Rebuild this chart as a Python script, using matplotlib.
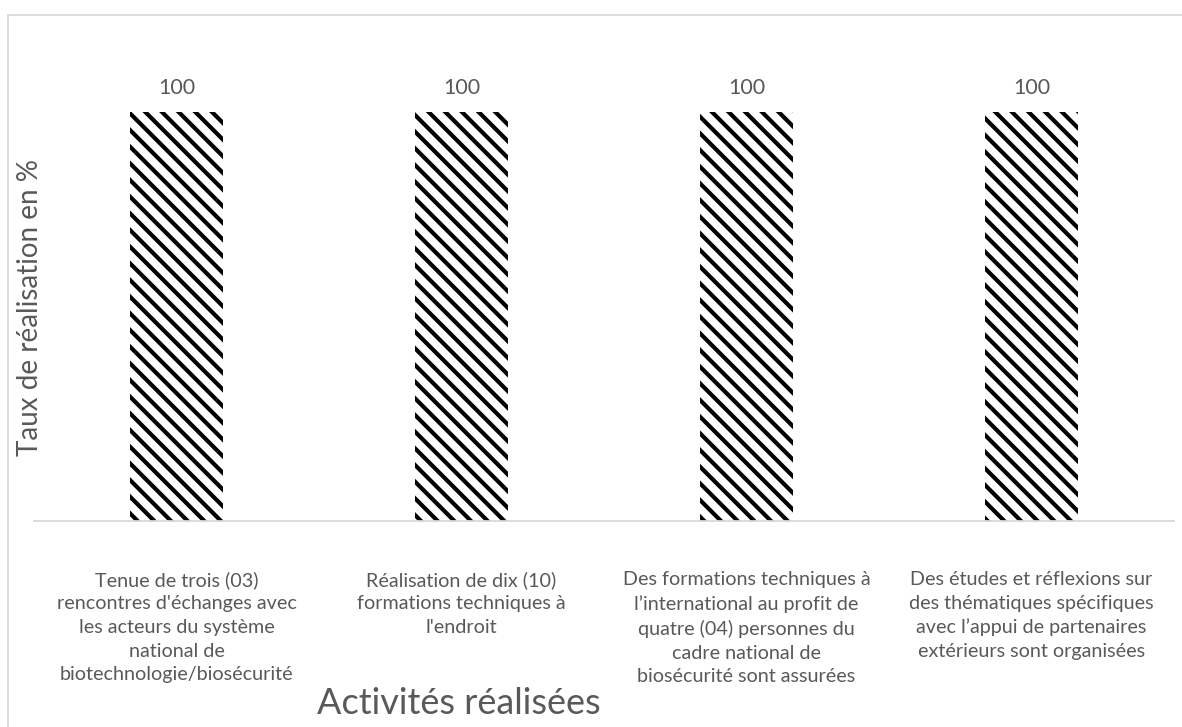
import matplotlib
matplotlib.use("Agg")
import matplotlib.pyplot as plt
from matplotlib.patches import Rectangle

categories = [
    "Tenue de trois (03)\nrencontres d'échanges avec\nles acteurs du système\nnational de\nbiotechnologie/biosécurité",
    "Réalisation de dix (10)\nformations techniques à\nl'endroit",
    "Des formations techniques à\nl’international au profit de\nquatre (04) personnes du\ncadre national de\nbiosécurité sont assurées",
    "Des études et réflexions sur\ndes thématiques spécifiques\navec l’appui de partenaires\nextérieurs sont organisées",
]
values = [100, 100, 100, 100]

W, H = 1182, 727
plt.rcParams["font.family"] = ["Lato", "DejaVu Sans"]
plt.rcParams["hatch.linewidth"] = 3.0
text_color = "#595959"

fig = plt.figure(figsize=(W / 100, H / 100), dpi=100)
fig.patch.set_facecolor("white")

# chart frame (extends past right and bottom edges)
fig.patches.append(Rectangle((8 / W, -0.1), 1.2, (727 - 15) / H + 0.1,
                             transform=fig.transFigure, fill=False,
                             edgecolor="#d9d9d9", linewidth=1.3))

ax = fig.add_axes([34 / W, (727 - 521) / H, (1174 - 34) / W, (521 - 30) / H])
x = list(range(len(categories)))
bars = ax.bar(x, values, width=0.323, facecolor="white", edgecolor="black",
              linewidth=0, hatch="\\\\", zorder=2)
ax.set_xlim(-0.5, len(categories) - 0.5)
ax.set_ylim(0, 120)

for xi, v in zip(x, values):
    ax.text(xi, v + 5.9, f"{v}", ha="center", va="center",
            fontsize=15.5, color=text_color)

for s in ["top", "right", "left"]:
    ax.spines[s].set_visible(False)
ax.spines["bottom"].set_color("#d9d9d9")
ax.spines["bottom"].set_linewidth(1.3)
ax.set_yticks([])
ax.set_xticks(x)
ax.set_xticklabels(categories, fontsize=14.2, color=text_color,
                   linespacing=1.47, va="top")
ax.tick_params(axis="x", length=0, pad=36)

fig.text(30 / W, 1 - 308 / H, "Taux de réalisation en %", rotation=90,
         ha="center", va="center", fontsize=20, color=text_color)
fig.text(459 / W, 1 - 703 / H, "Activités réalisées", ha="center",
         va="center", fontsize=26, color=text_color)

fig.savefig("out.png", dpi=100, facecolor="white")
